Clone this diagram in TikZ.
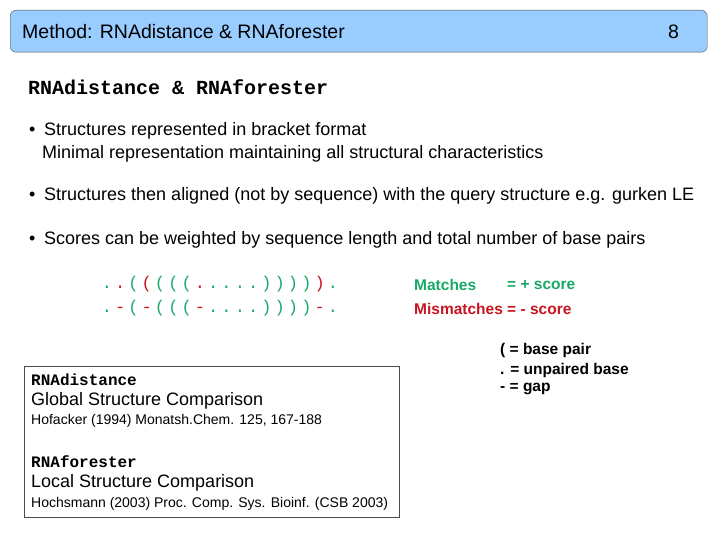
\documentclass[tikz,border=0pt]{standalone}
\usepackage{fontspec}
\setmainfont{Liberation Sans}
\setmonofont{Liberation Mono}
\definecolor{mgreen}{HTML}{1AA866}
\definecolor{mred}{HTML}{C8141E}
\definecolor{tblue}{HTML}{99CCFF}
\newcommand\cG[1]{\makebox[13.3pt]{\textcolor{mgreen}{#1}}}
\newcommand\cR[1]{\makebox[13.3pt]{\textcolor{mred}{#1}}}
\begin{document}
\begin{tikzpicture}[x=1pt,y=-1pt,
  txt/.style={anchor=west,inner sep=0pt,font=\fontsize{18}{20}\selectfont},
  sm/.style={anchor=west,inner sep=0pt,font=\fontsize{15.5}{17}\bfseries},
  ch/.style={anchor=west,inner sep=0pt,font=\fontsize{17}{18}\ttfamily}]
\useasboundingbox (0,0) rectangle (720,540);
\node[draw=black!70,fill=tblue,rounded corners=6pt,minimum width=697pt,minimum height=42pt,anchor=north west,inner sep=0pt] (title) at (10,10) {};
\node[txt,font=\fontsize{19.5}{21}\selectfont] (tt) at (22,32) {Method: RNAdistance \& RNAforester};
\node[txt,font=\fontsize{19.5}{21}\selectfont] (num) at (668,32) {8};
\node[txt,font=\fontsize{20}{22}\ttfamily\bfseries] (h) at (28,87) {RNAdistance \& RNAforester};
\node[txt] (d1) at (29,131) {•};
\node[txt] (b1) at (44,131) {Structures represented in bracket format};
\node[txt] (b1b) at (42,154) {Minimal representation maintaining all structural characteristics};
\node[txt] (d2) at (29,196) {•};
\node[txt] (b2) at (44,196) {Structures then aligned (not by sequence) with the query structure e.g. gurken LE};
\node[txt] (d3) at (29,240) {•};
\node[txt] (b3) at (44,240) {Scores can be weighted by sequence length and total number of base pairs};
\node[ch] (s1) at (100,284) {\cG.\cR.\cG(\cR(\cG(\cG(\cG(\cR.\cG.\cG.\cG.\cG.\cG)\cG)\cG)\cG)\cR)\cG.};
\node[ch] (s2) at (100,308) {\cG.\cR-\cG(\cR-\cG(\cG(\cG(\cR-\cG.\cG.\cG.\cG.\cG)\cG)\cG)\cG)\cR-\cG.};
\node[sm,text=mgreen] (m1) at (414,285) {Matches};
\node[sm,text=mgreen] (m1b) at (507,285) {= + score};
\node[sm,text=mred] (m2) at (414,309) {Mismatches = - score};
\node[sm] (l1) at (500,350) {( = base pair};
\node[sm] (l2) at (500,370) {. = unpaired base};
\node[sm] (l3) at (500,389) {- = gap};
\node[draw=black!70,minimum width=375pt,minimum height=151pt,anchor=north west,inner sep=0pt] (box) at (24,366) {};
\node[txt,font=\fontsize{16}{17}\ttfamily\bfseries] (r1) at (31,380) {RNAdistance};
\node[txt] (r2) at (31,401) {Global Structure Comparison};
\node[txt,font=\fontsize{14}{15}\selectfont] (r3) at (31,421) {Hofacker (1994) Monatsh.Chem. 125, 167-188};
\node[txt,font=\fontsize{16}{17}\ttfamily\bfseries] (r4) at (31,462) {RNAforester};
\node[txt] (r5) at (31,483) {Local Structure Comparison};
\node[txt,font=\fontsize{14}{15}\selectfont] (r6) at (31,504) {Hochsmann (2003) Proc. Comp. Sys. Bioinf. (CSB 2003)};
\end{tikzpicture}
\end{document}
